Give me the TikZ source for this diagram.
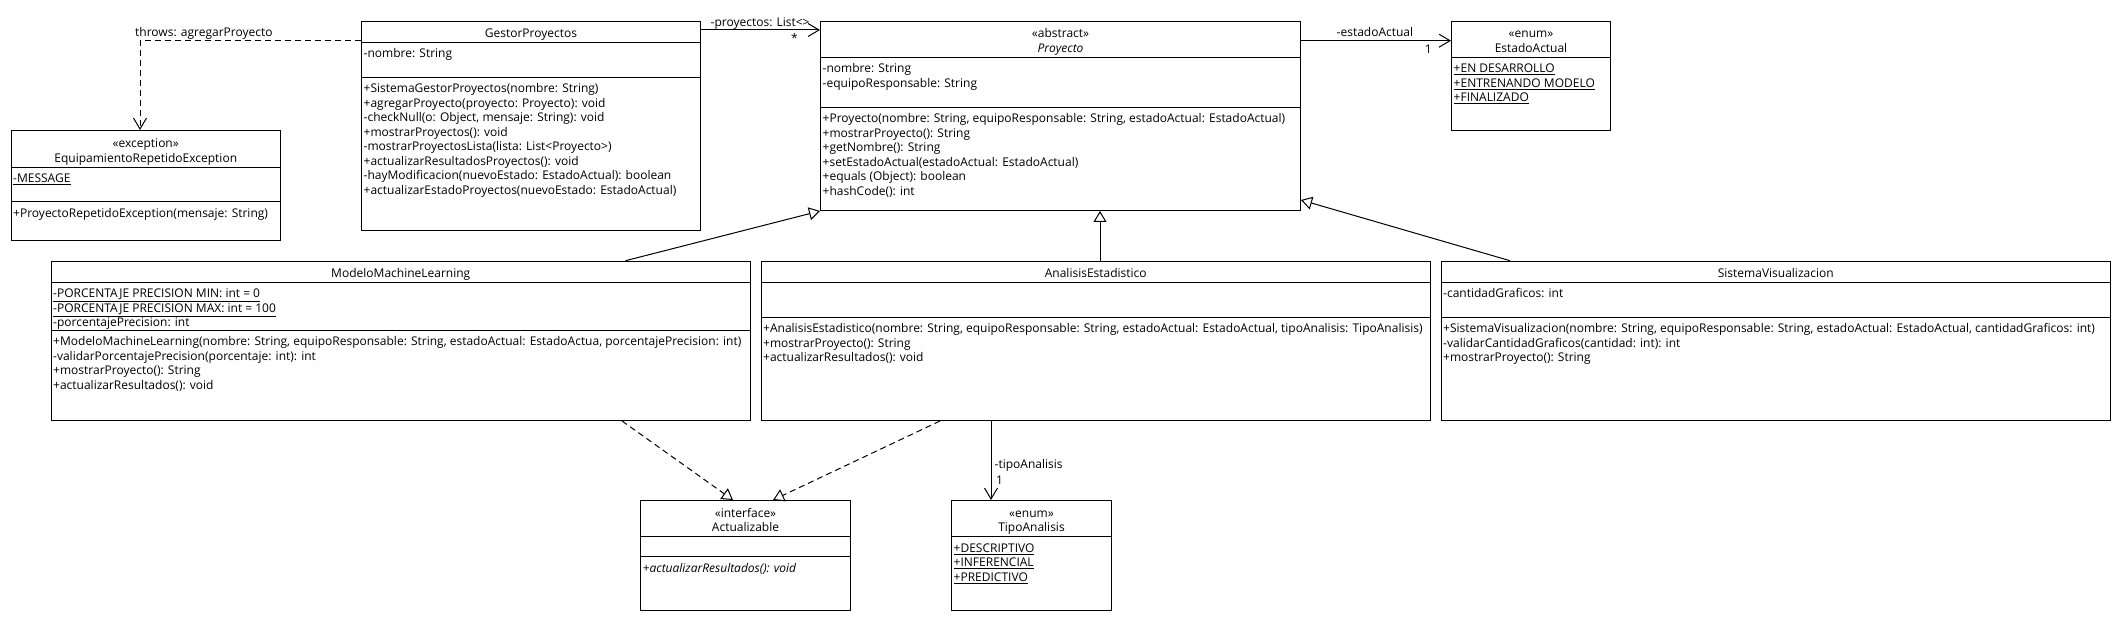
\documentclass[tikz,border=0pt]{standalone}
\usepackage{fontspec}
\setmainfont{Open Sans}
\usetikzlibrary{arrows.meta}

\tikzset{
  umlline/.style={line width=1pt},
  umlclass/.style={draw, umlline, anchor=north west, inner sep=0pt},
  ctitle/.style={anchor=south, align=center, inner sep=0pt},
  cmembers/.style={anchor=north west, align=left, inner sep=0pt, xshift=2.5pt},
  clabel/.style={inner sep=0pt},
  assoc/.style={umlline, -{Straight Barb[length=11pt,width=13pt]}},
  inherit/.style={umlline, -{Triangle[open,length=11pt,width=13pt]}},
  realize/.style={inherit, dash pattern=on 6pt off 4pt},
  depend/.style={assoc, dash pattern=on 6pt off 4pt},
}

\begin{document}
\begin{tikzpicture}[x=1pt, y=-1pt, font=\fontsize{12}{14.5}\selectfont]
  \fill[white] (0,0) rectangle (2120,620);
  \useasboundingbox (0,0) rectangle (2120,620);

  % class boxes
  \node[umlclass, minimum width=269.5pt, minimum height=110pt] (exc) at (10.5,130) {};
  \node[umlclass, minimum width=339pt, minimum height=209.3pt] (gestor) at (361,20.7) {};
  \node[umlclass, minimum width=480pt, minimum height=189.3pt] (proyecto) at (820,20.7) {};
  \node[umlclass, minimum width=159pt, minimum height=109.3pt] (estado) at (1451,20.7) {};
  \node[umlclass, minimum width=699.5pt, minimum height=159.3pt] (modelo) at (50.5,260.7) {};
  \node[umlclass, minimum width=669.5pt, minimum height=159.3pt] (analisis) at (760.5,260.7) {};
  \node[umlclass, minimum width=669.5pt, minimum height=159.3pt] (sistema) at (1440.5,260.7) {};
  \node[umlclass, minimum width=210pt, minimum height=110pt] (actual) at (640,500) {};
  \node[umlclass, minimum width=160pt, minimum height=110pt] (tipo) at (951,500) {};

  % compartments
  \draw[umlline] (exc.west |- 0,167.3) -- (exc.east |- 0,167.3);
  \draw[umlline] (exc.west |- 0,202) -- (exc.east |- 0,202);
  \draw[umlline] (gestor.west |- 0,42.3) -- (gestor.east |- 0,42.3);
  \draw[umlline] (gestor.west |- 0,77.3) -- (gestor.east |- 0,77.3);
  \draw[umlline] (proyecto.west |- 0,57.3) -- (proyecto.east |- 0,57.3);
  \draw[umlline] (proyecto.west |- 0,107.3) -- (proyecto.east |- 0,107.3);
  \draw[umlline] (estado.west |- 0,57.3) -- (estado.east |- 0,57.3);
  \draw[umlline] (modelo.west |- 0,282.3) -- (modelo.east |- 0,282.3);
  \draw[umlline] (modelo.west |- 0,330) -- (modelo.east |- 0,330);
  \draw[umlline] (analisis.west |- 0,282.3) -- (analisis.east |- 0,282.3);
  \draw[umlline] (analisis.west |- 0,317.3) -- (analisis.east |- 0,317.3);
  \draw[umlline] (sistema.west |- 0,282.3) -- (sistema.east |- 0,282.3);
  \draw[umlline] (sistema.west |- 0,317.3) -- (sistema.east |- 0,317.3);
  \draw[umlline] (actual.west |- 0,536.7) -- (actual.east |- 0,536.7);
  \draw[umlline] (actual.west |- 0,556.7) -- (actual.east |- 0,556.7);
  \draw[umlline] (tipo.west |- 0,536.7) -- (tipo.east |- 0,536.7);

  % EquipamientoRepetidoException
  \node[ctitle] (exc-name) at (exc.north |- 0,166.8) {«exception»\\\strut EquipamientoRepetidoException};
  \node[cmembers] (exc-attr) at (exc.west |- 0,172.6) {\strut\underline{-MESSAGE}};
  \node[cmembers] (exc-ops) at (exc.west |- 0,207.3) {\strut +ProyectoRepetidoException(mensaje: String)};

  % GestorProyectos
  \node[ctitle] (gestor-name) at (gestor.north |- 0,41.8) {\strut GestorProyectos};
  \node[cmembers] (gestor-attr) at (gestor.west |- 0,47.6) {\strut -nombre: String};
  \node[cmembers] (gestor-ops) at (gestor.west |- 0,82.6) {\strut +SistemaGestorProyectos(nombre: String)\\
    +agregarProyecto(proyecto: Proyecto): void\\
    -checkNull(o: Object, mensaje: String): void\\
    +mostrarProyectos(): void\\
    -mostrarProyectosLista(lista: List<Proyecto>)\\
    +actualizarResultadosProyectos(): void\\
    -hayModificacion(nuevoEstado: EstadoActual): boolean\\
    +actualizarEstadoProyectos(nuevoEstado: EstadoActual)};

  % Proyecto
  \node[ctitle] (proyecto-name) at (proyecto.north |- 0,56.8) {«abstract»\\\strut\textit{Proyecto}};
  \node[cmembers] (proyecto-attr) at (proyecto.west |- 0,62.6) {\strut -nombre: String\\
    -equipoResponsable: String};
  \node[cmembers] (proyecto-ops) at (proyecto.west |- 0,112.6) {\strut +Proyecto(nombre: String, equipoResponsable: String, estadoActual: EstadoActual)\\
    +mostrarProyecto(): String\\
    +getNombre(): String\\
    +setEstadoActual(estadoActual: EstadoActual)\\
    +equals (Object): boolean\\
    +hashCode(): int};

  % EstadoActual
  \node[ctitle] (estado-name) at (estado.north |- 0,56.8) {«enum»\\\strut EstadoActual};
  \node[cmembers] (estado-vals) at (estado.west |- 0,62.6) {\strut\underline{+EN DESARROLLO}\\
    \underline{+ENTRENANDO MODELO}\\
    \underline{+FINALIZADO}};

  % ModeloMachineLearning
  \node[ctitle] (modelo-name) at (modelo.north |- 0,281.8) {\strut ModeloMachineLearning};
  \node[cmembers] (modelo-attr) at (modelo.west |- 0,287.6) {\strut\underline{-PORCENTAJE PRECISION MIN: int = 0}\\
    \underline{-PORCENTAJE PRECISION MAX: int = 100}\\
    -porcentajePrecision: int};
  \node[cmembers] (modelo-ops) at (modelo.west |- 0,335.3) {\strut +ModeloMachineLearning(nombre: String, equipoResponsable: String, estadoActual: EstadoActua, porcentajePrecision: int)\\
    -validarPorcentajePrecision(porcentaje: int): int\\
    +mostrarProyecto(): String\\
    +actualizarResultados(): void};

  % AnalisisEstadistico
  \node[ctitle] (analisis-name) at (analisis.north |- 0,281.8) {\strut AnalisisEstadistico};
  \node[cmembers] (analisis-ops) at (analisis.west |- 0,322.6) {\strut +AnalisisEstadistico(nombre: String, equipoResponsable: String, estadoActual: EstadoActual, tipoAnalisis: TipoAnalisis)\\
    +mostrarProyecto(): String\\
    +actualizarResultados(): void};

  % SistemaVisualizacion
  \node[ctitle] (sistema-name) at (sistema.north |- 0,281.8) {\strut SistemaVisualizacion};
  \node[cmembers] (sistema-attr) at (sistema.west |- 0,287.6) {\strut -cantidadGraficos: int};
  \node[cmembers] (sistema-ops) at (sistema.west |- 0,322.6) {\strut +SistemaVisualizacion(nombre: String, equipoResponsable: String, estadoActual: EstadoActual, cantidadGraficos: int)\\
    -validarCantidadGraficos(cantidad: int): int\\
    +mostrarProyecto(): String};

  % Actualizable
  \node[ctitle] (actual-name) at (actual.north |- 0,536.2) {«interface»\\\strut Actualizable};
  \node[cmembers] (actual-ops) at (actual.west |- 0,562) {\strut\textit{+actualizarResultados(): void}};

  % TipoAnalisis
  \node[ctitle] (tipo-name) at (tipo.north |- 0,536.2) {«enum»\\\strut TipoAnalisis};
  \node[cmembers] (tipo-vals) at (tipo.west |- 0,542) {\strut\underline{+DESCRIPTIVO}\\
    \underline{+INFERENCIAL}\\
    \underline{+PREDICTIVO}};

  % relations
  \draw[depend] (gestor.west |- 0,40.7) -| (exc.north -| 140,0);
  \draw[assoc] (gestor.east |- 0,30) -- (proyecto.west |- 0,30);
  \draw[assoc] (proyecto.east |- 0,40.7) -- (estado.west |- 0,40.7);
  \draw[inherit] (modelo.north -| 625.5,0) -- (proyecto.south west);
  \draw[inherit] (analisis.north -| 1100,0) -- (proyecto.south -| 1100,0);
  \draw[inherit] (sistema.north -| 1510,0) -- (proyecto.east |- 0,200);
  \draw[realize] (modelo.south -| 622,0) -- (actual.north -| 733,0);
  \draw[realize] (analisis.south -| 940,0) -- (actual.north -| 773,0);
  \draw[assoc] (analisis.south -| 991,0) -- (tipo.north -| 991,0);

  % labels
  \node[clabel, anchor=base west] (lbl-throws) at (135,36.5) {throws: agregarProyecto};
  \node[clabel, anchor=base west] (lbl-proyectos) at (710.5,26.7) {-proyectos: List<>};
  \node[clabel, anchor=base east] (lbl-proyectos-m) at (798,42.6) {*};
  \node[clabel, anchor=base west] (lbl-estado) at (1336.5,37) {-estadoActual};
  \node[clabel, anchor=base east] (lbl-estado-m) at (1432,53.3) {1};
  \node[clabel, anchor=base west] (lbl-tipo) at (994.5,468.3) {-tipoAnalisis};
  \node[clabel, anchor=base west] (lbl-tipo-m) at (996,484.5) {1};
\end{tikzpicture}
\end{document}
